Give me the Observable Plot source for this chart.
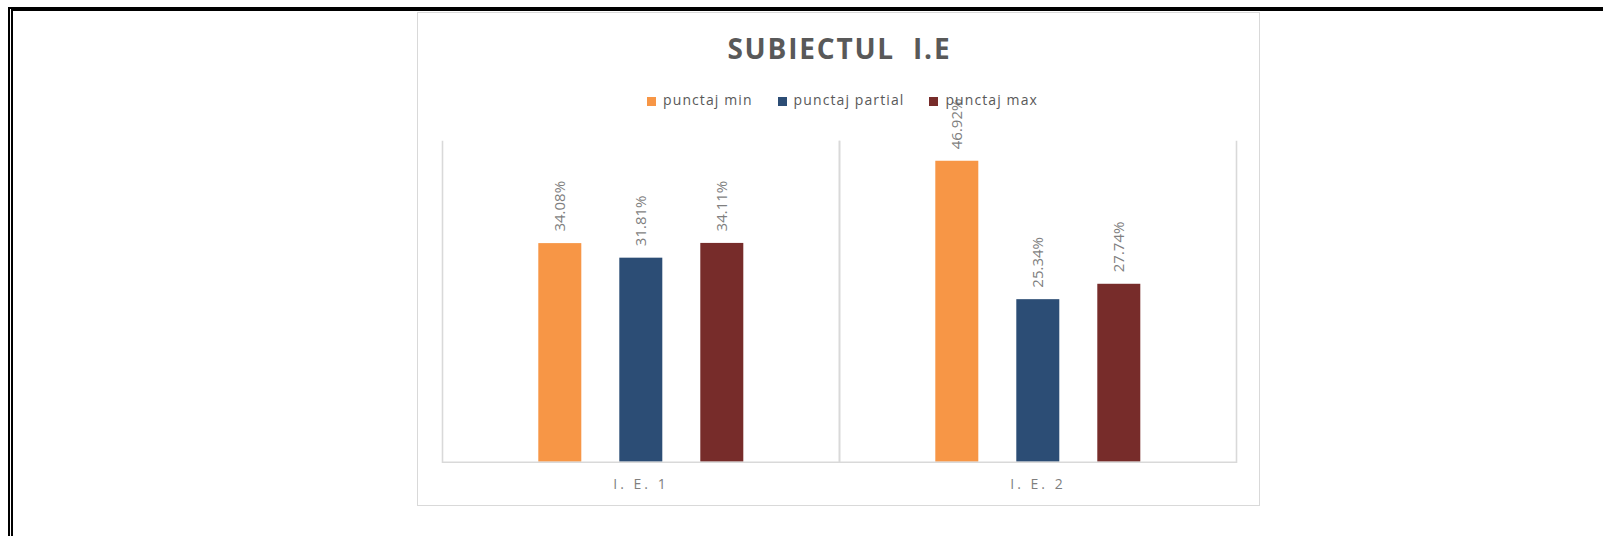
<!DOCTYPE html>
<html>
<head>
<meta charset="utf-8">
<script src="https://cdn.jsdelivr.net/npm/d3@7"></script>
<script src="https://cdn.jsdelivr.net/npm/@observablehq/plot@0.6"></script>
<style>
  html, body { margin: 0; padding: 0; background: #fff; }
  body { width: 1603px; height: 536px; overflow: hidden; position: relative; font-family: "Open Sans", sans-serif; }
  #frame { position: absolute; left: 8px; top: 7px; right: -20px; bottom: -20px; border-top: 4px solid #000; border-left: 5px double #000; }
  #box { position: absolute; left: 417px; top: 12px; width: 843px; height: 494px; border: 1px solid #d9d9d9; box-sizing: border-box; }
  #title { position: absolute; left: 417px; width: 843px; top: 34px; text-align: center; font-weight: 700; font-size: 28px; line-height: 28px; letter-spacing: 1.8px; word-spacing: 9px; padding-left: 1.8px; box-sizing: border-box; color: #595959; white-space: pre; }
  #legend { position: absolute; z-index: 2; left: 417px; width: 843px; top: 93px; display: flex; justify-content: center; gap: 25px; padding-left: 8px; box-sizing: border-box; font-size: 14px; line-height: 14px; letter-spacing: 1.1px; color: #595959; pointer-events: none; }
  .item { display: flex; align-items: center; }
  .sw { width: 9px; height: 9px; margin-right: 7px; margin-top: 2px; }
  #chart { position: absolute; z-index: 1; left: 417px; top: 112px; }
  #chart svg { overflow: visible; background: transparent; }
  #chart g[aria-label^="fx-axis"] text { letter-spacing: 3px; }
</style>
</head>
<body>
<div id="frame"></div>
<div id="box"></div>
<div id="title"></div>
<div id="chart"></div>
<div id="legend"></div>
<script>
const titleText = "SUBIECTUL I.E";
const categories = ["I. E. 1", "I. E. 2"];
const seriesNames = ["punctaj min", "punctaj partial", "punctaj max"];
const minValues = [34.08, 46.92];
const partialValues = [31.81, 25.34];
const maxValues = [34.11, 27.74];
const seriesColors = ["#F79646", "#2C4D75", "#772C2A"];

const valuesBySeries = [minValues, partialValues, maxValues];
const data = categories.flatMap((cat, i) =>
  seriesNames.map((s, j) => ({cat, series: s, value: valuesBySeries[j][i]}))
);

document.getElementById("title").textContent = titleText;
const legend = document.getElementById("legend");
seriesNames.forEach((s, j) => {
  const item = document.createElement("div");
  item.className = "item";
  const sw = document.createElement("span");
  sw.className = "sw";
  sw.style.background = seriesColors[j];
  const lab = document.createElement("span");
  lab.textContent = s;
  item.appendChild(sw);
  item.appendChild(lab);
  legend.appendChild(item);
});

const grid = "#d9d9d9";
const chart = Plot.plot({
  width: 843,
  height: 394,
  marginTop: 29,
  marginBottom: 44.3,
  marginLeft: 24.7,
  marginRight: 23.3,
  style: {fontFamily: "Open Sans", background: "transparent", overflow: "visible"},
  fx: {domain: categories, padding: 0, label: null},
  x: {domain: seriesNames, paddingInner: 0.475, paddingOuter: 1.166, axis: null},
  y: {domain: [0, 50], axis: null},
  color: {domain: seriesNames, range: seriesColors},
  marks: [
    Plot.frame({anchor: "left", stroke: grid, strokeWidth: 1.6}),
    Plot.frame({anchor: "right", stroke: grid, strokeWidth: 1.6}),
    Plot.barY(data, {fx: "cat", x: "series", y: "value", fill: "series"}),
    Plot.ruleY([0], {stroke: grid, strokeWidth: 1.6}),
    Plot.text(data, {
      fx: "cat", x: "series", y: "value",
      text: d => d.value.toFixed(2) + "%",
      rotate: -90, textAnchor: "start", lineAnchor: "middle",
      dy: -12, fill: "#7f7f7f", fontSize: 15
    }),
    Plot.axisFx({anchor: "bottom", tickSize: 0, tickPadding: 17, fontSize: 14, fill: "#7f7f7f", label: null})
  ]
});
document.getElementById("chart").appendChild(chart);
</script>
</body>
</html>
